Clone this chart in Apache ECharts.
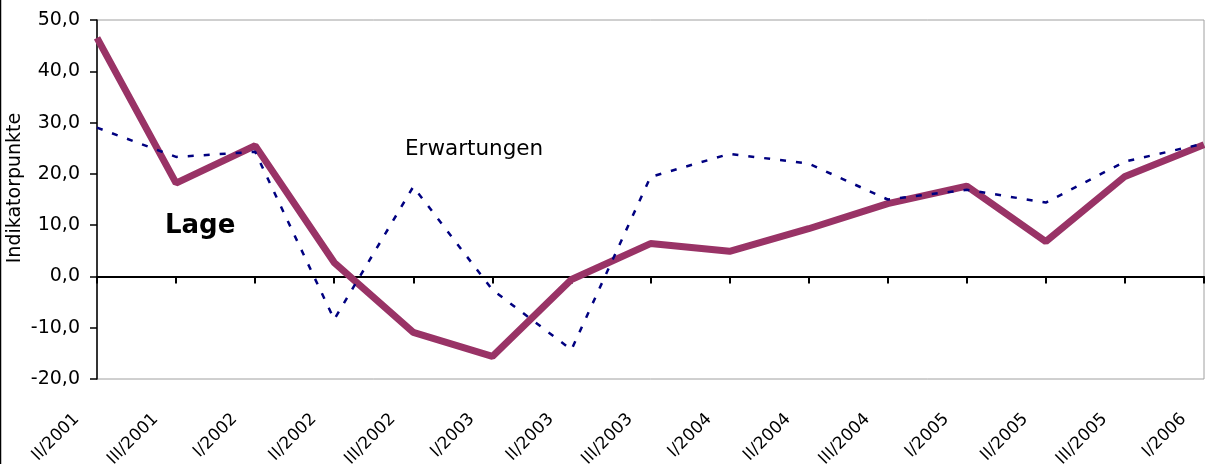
<!DOCTYPE html>
<html>
<head>
<meta charset="utf-8">
<script src="https://cdn.jsdelivr.net/npm/echarts@6/dist/echarts.min.js"></script>
<style>
html,body{margin:0;padding:0;background:#fff;}
#chart{width:1205px;height:464px;}
</style>
</head>
<body>
<div id="chart"></div>
<script>
const categories = ['II/2001','III/2001','I/2002','II/2002','III/2002','I/2003','II/2003','III/2003','I/2004','II/2004','III/2004','I/2005','II/2005','III/2005','I/2006'];
const lage = [46.5, 18.2, 25.5, 2.7, -10.9, -15.6, -0.6, 6.4, 4.9, 9.3, 14.2, 17.6, 6.8, 19.5, 25.7];
const erwartungen = [29.0, 23.3, 24.3, -8.4, 17.5, -2.6, -14.3, 19.4, 23.9, 22.0, 15.0, 16.9, 14.4, 22.4, 25.9];
const yTicks = {min: -20, max: 50, interval: 10};

const FONT = 'DejaVu Sans';
const chart = echarts.init(document.getElementById('chart'));
chart.setOption({
  animation: false,
  backgroundColor: '#ffffff',
  grid: {left: 97, right: 1, top: 20, bottom: 85, containLabel: false, outerBoundsMode: 'none', show: true, borderColor: '#a0a0a0', borderWidth: 1, backgroundColor: 'transparent'},
  xAxis: [{
    type: 'category',
    data: categories,
    boundaryGap: false,
    axisLine: {onZero: true, lineStyle: {color: '#000', width: 2}},
    axisTick: {show: true, inside: false, length: 7, interval: 0, lineStyle: {color: '#000', width: 2}},
    axisLabel: {show: false},
    splitLine: {show: false}
  }, {
    type: 'category',
    data: categories,
    boundaryGap: false,
    position: 'bottom',
    axisLine: {show: false, onZero: false},
    axisTick: {show: false},
    axisLabel: {show: true, interval: 0, rotate: 45, margin: 17, padding: [0, 29, 0, 0], fontFamily: FONT, fontSize: 17, color: '#000', hideOverlap: false},
    splitLine: {show: false}
  }],
  yAxis: {
    type: 'value',
    min: yTicks.min, max: yTicks.max, interval: yTicks.interval,
    axisLine: {show: true, lineStyle: {color: '#000', width: 1.5}},
    axisTick: {show: true, inside: false, length: 7, lineStyle: {color: '#000', width: 1.5}},
    axisLabel: {margin: 17, fontFamily: FONT, fontSize: 19, color: '#000', formatter: v => v.toFixed(1).replace('.', ',')},
    splitLine: {show: false}
  },
  series: [
    {name: 'Lage', type: 'line', data: lage, symbol: 'none', lineStyle: {color: '#993366', width: 7}, z: 3},
    {name: 'Erwartungen', type: 'line', data: erwartungen, symbol: 'none', lineStyle: {color: '#000080', width: 2.5, type: [6, 10]}, z: 4}
  ],
  graphic: [
    {type: 'line', shape: {x1: 0.5, y1: 0, x2: 0.5, y2: 464}, style: {stroke: '#000', lineWidth: 1.5}},
    {type: 'text', x: 15, y: 188, rotation: Math.PI / 2, style: {text: 'Indikatorpunkte', fontFamily: FONT, fontSize: 19, fill: '#000', textAlign: 'center', textVerticalAlign: 'middle'}},
    {type: 'text', x: 405, y: 149, style: {text: 'Erwartungen', fontFamily: FONT, fontSize: 21.5, fill: '#000', textAlign: 'left', textVerticalAlign: 'middle'}},
    {type: 'text', x: 165, y: 226, style: {text: 'Lage', fontFamily: FONT, fontSize: 26, fontWeight: 'bold', fill: '#000', textAlign: 'left', textVerticalAlign: 'middle'}}
  ]
});
</script>
</body>
</html>
